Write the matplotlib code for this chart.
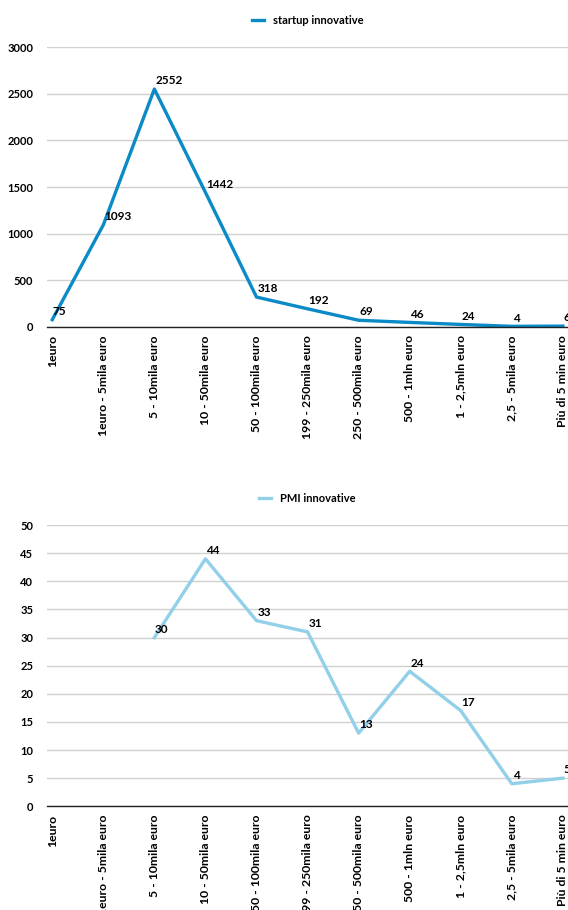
import numpy as np
import matplotlib.pyplot as plt

plt.rcParams['font.family'] = ['Lato', 'DejaVu Sans']
plt.rcParams['font.weight'] = 'bold'

# categories and values
categories = ['1euro', '1euro - 5mila euro', '5 - 10mila euro', '10 - 50mila euro',
              '50 - 100mila euro', '199 - 250mila euro', '250 - 500mila euro',
              '500 - 1mln euro', '1 - 2,5mln euro', '2,5 - 5mila euro',
              'Più di 5 min euro']
startup = [75, 1093, 2552, 1442, 318, 192, 69, 46, 24, 4, 6]
pmi = [np.nan, np.nan, 30, 44, 33, 31, 13, 24, 17, 4, 5]

fig = plt.figure(figsize=(5.68, 9.10), dpi=100)
ax1 = fig.add_axes([0.083, 0.641, 0.917, 0.307])
ax2 = fig.add_axes([0.083, 0.114, 0.917, 0.309])


def draw(ax, vals, color, label, ymax, step):
    x = np.arange(len(categories))
    ax.plot(x, vals, color=color, linewidth=2.4, label=label, clip_on=False)
    for xi, v in zip(x, vals):
        if not np.isnan(v):
            ax.annotate(f'{v:g}', (xi, v), xytext=(0.5, 2), textcoords='offset points',
                        fontsize=8.5, fontweight='bold', ha='left', va='bottom',
                        annotation_clip=False)
    ax.set_xlim(-0.1, 10.1)
    ax.set_ylim(0, ymax)
    ax.set_yticks(np.arange(0, ymax + 1, step))
    ax.set_xticks(x)
    ax.set_xticklabels(categories, rotation=90, fontsize=8.8, fontweight='bold')
    ax.tick_params(axis='y', labelsize=8, length=0, pad=10)
    ax.tick_params(axis='x', length=0, pad=6)
    ax.grid(axis='y', color='#d0d0d0', linewidth=1)
    ax.set_axisbelow(True)
    for s in ['left', 'right', 'top']:
        ax.spines[s].set_visible(False)
    ax.spines['bottom'].set_color('#222222')
    ax.spines['bottom'].set_linewidth(1)
    ax.legend(loc='lower center', bbox_to_anchor=(0.5, 1.04), frameon=False,
              fontsize=8, handlelength=1.1, handletextpad=0.8)


draw(ax1, startup, '#0a8ac6', 'startup innovative', 3000, 500)
draw(ax2, pmi, '#92cfe8', 'PMI innovative', 50, 5)

fig.savefig('out.png', dpi=100)
